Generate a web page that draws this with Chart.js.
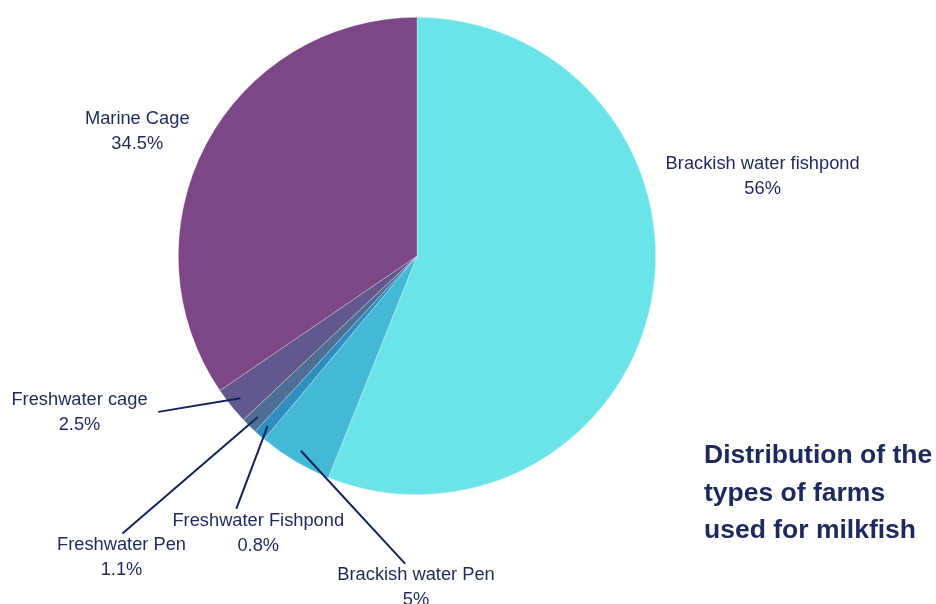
<!DOCTYPE html>
<html>
<head>
<meta charset="utf-8">
<script src="https://cdn.jsdelivr.net/npm/chart.js@4"></script>
<style>
  html, body { margin: 0; padding: 0; background: #fff; }
  #wrap { width: 936px; height: 604px; }
</style>
</head>
<body>
<div id="wrap"><canvas id="pieChart" width="936" height="604"></canvas></div>
<script>
// data
const farmTypes = ["Brackish water fishpond", "Brackish water Pen", "Freshwater Fishpond", "Freshwater Pen", "Freshwater cage", "Marine Cage"];
const shares = [56, 5, 0.8, 1.1, 2.5, 34.5];
const shareLabels = ["56%", "5%", "0.8%", "1.1%", "2.5%", "34.5%"];
const sliceColors = ["#6be4e9", "#43b8d7", "#2e8ec0", "#4f6e96", "#63588e", "#7d4686"];
const titleLines = ["Distribution of the", "types of farms", "used for milkfish"];

// label placement, in radius units from the pie centre (text = first line centre, end = leader end)
const labelLayout = [
    { text: [1.448, -0.385] },
    { text: [-0.004, 1.338], end: [-0.050, 1.289] },
    { text: [-0.665, 1.112], end: [-0.757, 1.059] },
    { text: [-1.238, 1.212], end: [-1.234, 1.163] },
    { text: [-1.414, 0.602], end: [-1.084, 0.653] },
    { text: [-1.172, -0.573] }
];

const textColor = "#1e2a5c";
const lineColor = "#14225a";

const pieLabels = {
    id: "pieLabels",
    afterDatasetsDraw(chart) {
        const ctx = chart.ctx;
        const arcs = chart.getDatasetMeta(0).data;
        ctx.save();
        ctx.font = "18.3px 'Liberation Sans', Arial, sans-serif";
        ctx.textAlign = "center";
        ctx.textBaseline = "middle";
        arcs.forEach(function(arc, i) {
            const cx = arc.x, cy = arc.y, r = arc.outerRadius;
            const mid = (arc.startAngle + arc.endAngle) / 2;
            const lay = labelLayout[i];
            if (lay.end) {
                ctx.beginPath();
                ctx.moveTo(cx + Math.cos(mid) * r * 0.95, cy + Math.sin(mid) * r * 0.95);
                ctx.lineTo(cx + lay.end[0] * r, cy + lay.end[1] * r);
                ctx.strokeStyle = lineColor;
                ctx.lineWidth = 2;
                ctx.stroke();
            }
            const tx = cx + lay.text[0] * r, ty = cy + lay.text[1] * r;
            ctx.fillStyle = textColor;
            ctx.fillText(farmTypes[i], tx, ty);
            ctx.fillText(shareLabels[i], tx, ty + 25);
        });

        // title block, bottom right
        ctx.font = "bold 26.5px 'Liberation Sans', Arial, sans-serif";
        ctx.textAlign = "left";
        ctx.textBaseline = "middle";
        titleLines.forEach(function(line, k) {
            ctx.fillText(line, 704, 456 + k * 37.5);
        });
        ctx.restore();
    }
};

document.addEventListener("DOMContentLoaded", function() {
    const pieCanvas = document.getElementById("pieChart").getContext("2d");
    const pieChart = new Chart(pieCanvas, {
        type: "pie",
        data: {
            labels: farmTypes,
            datasets: [{
                data: shares,
                backgroundColor: sliceColors,
                borderColor: "rgba(255,255,255,0.45)",
                borderWidth: 0.6
            }]
        },
        options: {
            responsive: false,
            animation: false,
            layout: { padding: { top: 17, bottom: 109, left: 178, right: 280 } },
            plugins: {
                legend: { display: false },
                tooltip: { enabled: false }
            }
        },
        plugins: [pieLabels]
    });
});
</script>
</body>
</html>
